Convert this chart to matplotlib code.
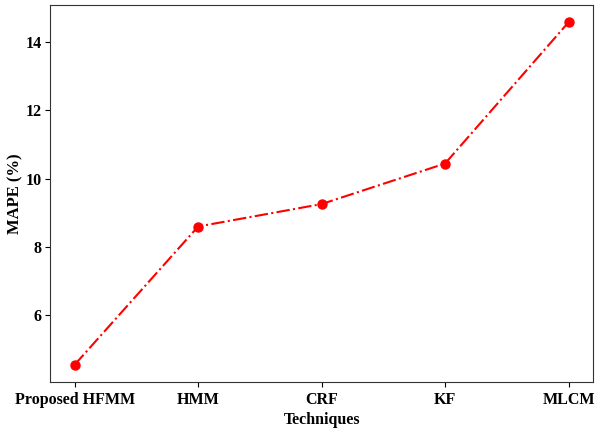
import matplotlib
matplotlib.use("Agg")
import matplotlib.pyplot as plt

techniques = ["Proposed HFMM", "HMM", "CRF", "KF", "MLCM"]
mape = [4.53, 8.59, 9.25, 10.44, 14.59]
yticks = [6, 8, 10, 12, 14]

plt.rcParams['font.family'] = ['Liberation Serif', 'DejaVu Serif']
plt.rcParams['font.weight'] = 'bold'

fig = plt.figure(figsize=(5.95, 4.30), dpi=100)
ax = fig.add_axes([0.084, 0.112, 0.913, 0.876])
ax.plot(range(len(techniques)), mape, color='red', linestyle='-.', marker='o',
        markersize=6.5, linewidth=1.5)
ax.set_xticks(range(len(techniques)))
ax.set_xticklabels(techniques, fontsize=11.5, fontweight='bold')
ax.set_yticks(yticks)
ax.set_yticklabels([str(v) for v in yticks], fontsize=11.5, fontweight='bold')
ax.tick_params(axis='y', pad=2.5)
ax.set_xlabel("Techniques", fontsize=11.5, fontweight='bold', labelpad=3)
ax.set_ylabel("MAPE (%)", fontsize=12, fontweight='bold', labelpad=1.5)
for s in ax.spines.values():
    s.set_color('#333333')
fig.savefig("out.png", dpi=100)
